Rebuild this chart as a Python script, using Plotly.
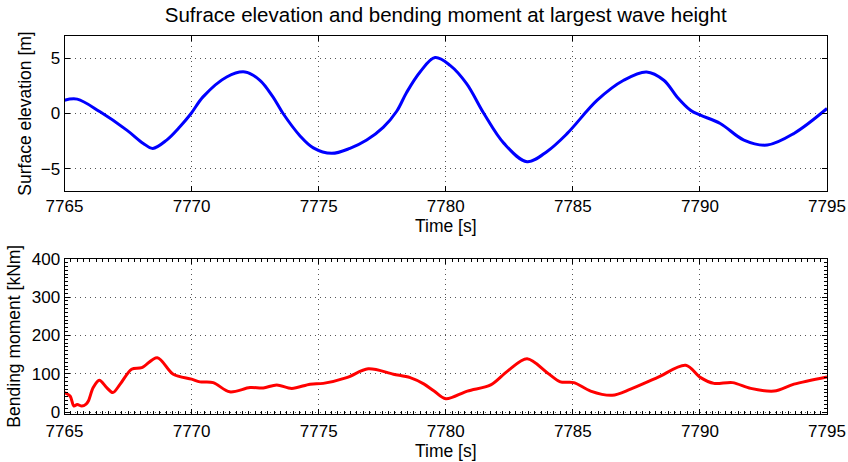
import plotly.graph_objects as go

# Surface elevation record around the largest wave [s, m]
eta_time = [7765.0, 7765.5, 7766.4, 7767.45, 7768.1, 7768.47, 7769.02, 7769.54, 7769.98,
            7770.45, 7771.38, 7772.1, 7772.69, 7773.2, 7773.6, 7774.26, 7774.79, 7775.51,
            7776.23, 7776.89, 7777.54, 7778.07, 7778.46, 7778.99, 7779.58, 7780.17,
            7780.82, 7781.5, 7782.29, 7783.2, 7784.0, 7784.78, 7785.96, 7787.0, 7787.9,
            7788.58, 7789.1, 7789.63, 7790.02, 7790.8, 7791.73, 7792.65, 7793.7, 7795.0]
eta_value = [1.2, 1.3, 0.15, -1.5, -2.7, -3.15, -2.4, -1.2, 0.0,
             1.5, 3.3, 3.75, 3.0, 1.5, 0.0, -2.0, -3.1, -3.6,
             -3.15, -2.4, -1.26, 0.2, 1.9, 3.75, 5.05, 4.35,
             2.7, 0.0, -2.7, -4.35, -3.4, -1.8, 1.2, 3.0, 3.75,
             3.0, 1.5, 0.3, -0.15, -0.9, -2.4, -2.85, -1.8, 0.45]

# Bending moment at the same time window [s, kNm]
moment_time = [7765.0, 7765.22, 7765.37, 7765.5, 7765.68, 7765.85, 7765.94, 7766.13,
               7766.37, 7766.66, 7766.9, 7767.19, 7767.64, 7768.04, 7768.65, 7769.28,
               7770.0, 7770.33, 7770.85, 7771.5, 7772.3, 7772.82, 7773.35, 7773.94,
               7774.66, 7775.18, 7776.1, 7776.95, 7777.94, 7778.6, 7779.15, 7779.54,
               7780.0, 7780.85, 7781.77, 7782.43, 7783.2, 7783.99, 7784.51, 7785.04,
               7785.7, 7786.55, 7787.27, 7788.32, 7789.44, 7790.03, 7790.55, 7791.28,
               7792.0, 7792.92, 7793.7, 7795.0]
moment_value = [51, 42, 16, 20, 16, 21, 29, 64,
                83, 64, 51, 73, 112, 116, 142, 99,
                86, 79, 77, 53, 64, 63, 71, 62,
                73, 75, 90, 113, 99, 90, 73, 55,
                35, 55, 71, 107, 139, 103, 79, 77,
                55, 44, 60, 90, 122, 90, 75, 77,
                62, 55, 73, 92]

time_ticks = [7765, 7770, 7775, 7780, 7785, 7790, 7795]
eta_ticks = [-5, 0, 5]
moment_ticks = [0, 100, 200, 300, 400]

W, H = 848, 462
FONT = "Liberation Sans, Arial, Helvetica, sans-serif"

fig = go.Figure()
fig.add_trace(go.Scatter(x=eta_time, y=eta_value, mode="lines",
                         line=dict(color="#0000ff", width=3, shape="spline", smoothing=1.0),
                         xaxis="x", yaxis="y", showlegend=False))
fig.add_trace(go.Scatter(x=moment_time, y=moment_value, mode="lines",
                         line=dict(color="#ff0000", width=3, shape="spline", smoothing=0.9),
                         xaxis="x2", yaxis="y2", showlegend=False))

common = dict(
    showline=True, linecolor="black", linewidth=1, mirror="ticks",
    ticks="inside", ticklen=5, tickcolor="black", tickwidth=1,
    showgrid=True, gridcolor="#555555", griddash="1px,4px", gridwidth=1,
    zeroline=False, automargin=False,
    tickfont=dict(family=FONT, size=17, color="black"),
    title_font=dict(family=FONT, size=17.5, color="black"),
)

x_dom = [64.5 / W, 827 / W]
fig.update_layout(
    width=W, height=H,
    margin=dict(l=0, r=0, t=0, b=0),
    paper_bgcolor="white", plot_bgcolor="white",
    font=dict(family=FONT, size=17, color="black"),
    title=dict(text="Sufrace elevation and bending moment at largest wave height",
               x=445.7 / W, xanchor="center", xref="paper",
               y=1 - 15 / H, yanchor="middle", yref="paper",
               font=dict(family=FONT, size=20.5, color="black")),
    xaxis=dict(domain=x_dom, range=[7765, 7795], tickvals=time_ticks,
               title=dict(text="Time [s]", standoff=2), anchor="y", **common),
    yaxis=dict(domain=[1 - 191 / H, 1 - 36 / H], range=[-7, 7], tickvals=eta_ticks,
               tickformat="d", title=dict(text="Surface elevation [m]", standoff=4),
               anchor="x", **common),
    xaxis2=dict(domain=x_dom, range=[7765, 7795], tickvals=time_ticks,
                ticklabelstandoff=2,
                title=dict(text="Time [s]", standoff=0), anchor="y2",
                minor=dict(dtick=0.25, ticks="inside", ticklen=3, tickcolor="black",
                           showgrid=False), **common),
    yaxis2=dict(domain=[1 - 413.7 / H, 1 - 258.7 / H], range=[-4, 400],
                tickvals=moment_ticks,
                title=dict(text="Bending moment [kNm]", standoff=6), anchor="x2",
                minor=dict(dtick=10, ticks="inside", ticklen=3, tickcolor="black",
                           showgrid=False), **common),
)

fig.write_html("out.html")
